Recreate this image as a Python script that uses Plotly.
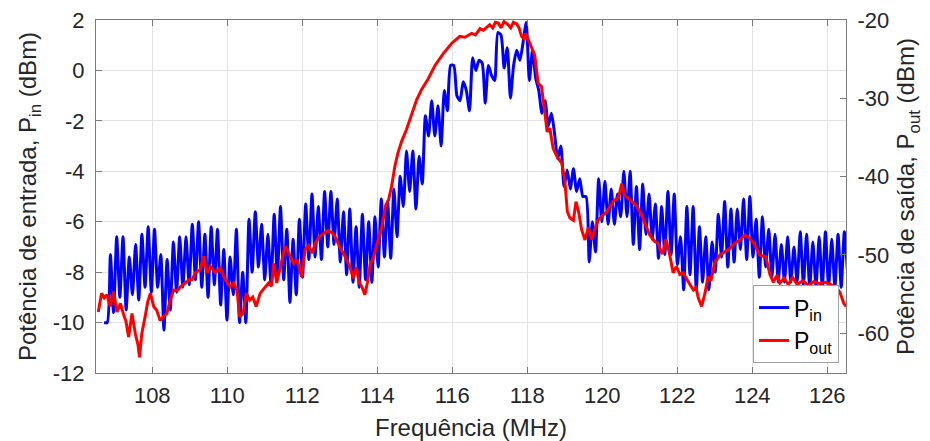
import numpy as np
import plotly.graph_objects as go

# ---------------- data ----------------
# P_in (dBm, left axis), sampled on a uniform frequency grid
pin_f_start = 106.716
pin_f_step = 0.084
p_in = [
    -10.0, -10.0, -7.3, -9.6, -6.6, -9.0, -6.6, -9.5, -7.4, -8.9,
    -6.9, -9.1, -6.5, -8.6, -6.2, -8.8, -6.3, -8.6, -7.3, -10.3,
    -7.5, -9.5, -6.8, -8.8, -6.6, -8.6, -6.6, -8.5, -6.1, -8.3,
    -6.0, -8.6, -6.5, -9.0, -6.2, -8.5, -6.3, -9.3, -7.1, -9.9,
    -7.4, -8.9, -6.3, -10.0, -8.0, -10.0, -5.9, -8.0, -5.6, -7.8,
    -6.1, -8.3, -6.5, -8.5, -5.7, -8.2, -5.4, -8.3, -6.3, -9.2,
    -6.7, -8.9, -5.9, -8.2, -5.3, -7.5, -4.9, -7.4, -5.4, -7.5,
    -4.8, -7.0, -4.8, -6.9, -5.1, -7.6, -5.6, -8.1, -5.5, -8.4,
    -6.2, -8.6, -5.7, -8.3, -6.0, -8.4, -5.8, -7.8, -5.1, -7.4,
    -5.2, -7.45, -4.7, -6.6, -4.2, -5.4, -3.2, -4.8, -3.2, -5.5,
    -3.4, -4.5, -1.8, -2.6, -1.2, -2.6, -1.4, -3.0, -0.8, -1.6,
    0.2, 0.2, -1.0, -1.2, -0.45, -0.8, -1.6, 0.5, 0.0, 0.4,
    0.3, -1.3, 0.2, -0.2, -0.4, 1.5, 1.4, 0.1, 0.9, -1.1,
    0.2, 0.8, 0.4, 1.1, 1.9, -0.4, 0.8, -0.3, -0.8, -1.7,
    -1.2, -2.2, -1.7, -2.5, -3.5, -3.0, -4.6, -3.95, -4.7, -3.9,
    -4.8, -4.3, -5.0, -5.0, -7.6, -6.0, -7.2, -4.3, -6.0, -4.4,
    -6.1, -4.7, -6.1, -4.9, -5.8, -4.0, -5.8, -4.0, -6.9, -4.6,
    -7.1, -4.5, -6.5, -4.9, -6.7, -5.3, -7.45, -5.4, -7.3, -4.8,
    -7.3, -4.9, -7.7, -6.6, -8.7, -5.4, -8.1, -5.4, -8.7, -6.2,
    -8.4, -6.6, -8.7, -6.8, -8.0, -5.7, -7.4, -5.2, -7.8, -5.5,
    -7.6, -5.5, -7.1, -5.1, -7.5, -5.0, -7.4, -5.9, -8.2, -5.8,
    -7.8, -6.3, -8.2, -6.5, -8.4, -6.9, -8.4, -6.6, -8.4, -7.0,
    -8.4, -6.4, -8.5, -6.5, -8.6, -6.8, -8.6, -6.6, -8.6, -6.4,
    -8.6, -6.7, -8.6, -6.5, -8.6, -6.4, -8.0,
]

# P_out (dBm, right axis)
f_out = [
    106.56, 106.65, 106.72, 106.79, 106.88, 106.97, 107.06, 107.15, 107.24, 107.30,
    107.37, 107.46, 107.55, 107.62, 107.66, 107.72, 107.81, 107.88, 107.95, 108.04,
    108.12, 108.21, 108.30, 108.39, 108.48, 108.57, 108.66, 108.75, 108.88, 108.97,
    109.06, 109.15, 109.28, 109.37, 109.46, 109.55, 109.68, 109.81, 109.95, 110.08,
    110.17, 110.26, 110.33, 110.42, 110.51, 110.60, 110.68, 110.77, 110.88, 111.01,
    111.10, 111.18, 111.24, 111.32, 111.41, 111.49, 111.55, 111.64, 111.77, 111.86,
    111.98, 112.08, 112.17, 112.26, 112.35, 112.44, 112.56, 112.69, 112.80, 112.90,
    113.00, 113.14, 113.27, 113.36, 113.44, 113.52, 113.60, 113.67, 113.74, 113.81,
    113.89, 113.98, 114.12, 114.23, 114.30, 114.38, 114.47, 114.55, 114.65, 114.78,
    114.92, 115.05, 115.18, 115.36, 115.54, 115.76, 115.98, 116.20, 116.34, 116.52,
    116.62, 116.74, 116.83, 116.92, 117.00, 117.08, 117.15, 117.23, 117.30, 117.38,
    117.49, 117.56, 117.63, 117.72, 117.78, 117.85, 117.92, 117.96, 118.07, 118.20,
    118.29, 118.38, 118.47, 118.53, 118.60, 118.69, 118.80, 118.92, 119.00, 119.07,
    119.14, 119.23, 119.30, 119.37, 119.45, 119.54, 119.63, 119.72, 119.80, 119.89,
    119.98, 120.12, 120.20, 120.29, 120.34, 120.44, 120.52, 120.60, 120.70, 120.83,
    120.92, 121.05, 121.14, 121.27, 121.40, 121.49, 121.54, 121.61, 121.70, 121.79,
    121.89, 121.98, 122.07, 122.16, 122.29, 122.43, 122.50, 122.56, 122.65, 122.74,
    122.82, 122.90, 123.00, 123.14, 123.27, 123.40, 123.54, 123.67, 123.80, 123.90,
    124.03, 124.12, 124.20, 124.30, 124.36, 124.47, 124.56, 124.66, 124.74, 124.85,
    124.96, 125.08, 125.20, 125.35, 125.50, 125.65, 125.80, 125.95, 126.10, 126.26,
    126.34, 126.44, 126.50,
]
p_out = [
    -57.3, -54.9, -55.5, -55.1, -56.6, -54.7, -57.3, -56.2, -57.7, -58.5,
    -60.5, -57.5, -60.1, -61.5, -63.1, -60.1, -57.9, -56.0, -54.9, -56.6,
    -57.1, -58.4, -57.9, -57.5, -55.8, -54.5, -54.6, -54.1, -53.6, -53.2,
    -53.2, -52.3, -51.9, -50.2, -52.3, -51.5, -52.3, -51.7, -53.2, -54.1,
    -53.6, -54.5, -57.9, -57.5, -54.9, -55.8, -55.4, -56.6, -54.9, -54.1,
    -53.6, -54.0, -51.1, -53.6, -51.5, -50.0, -48.9, -49.8, -51.1, -50.6,
    -52.8, -49.3, -48.8, -49.8, -48.5, -47.8, -47.3, -46.9, -47.2, -47.9,
    -49.0, -50.2, -51.5, -53.0, -51.6, -53.5, -54.2, -55.1, -53.5, -51.2,
    -50.5, -48.9, -46.5, -43.6, -43.0, -41.3, -38.7, -37.0, -35.5, -34.0,
    -32.0, -30.2, -28.9, -27.5, -25.8, -24.3, -23.0, -22.1, -22.2, -21.7,
    -21.9, -21.1, -21.3, -20.9, -20.6, -21.0, -20.3, -20.4, -21.0, -20.2,
    -20.6, -21.0, -20.3, -20.5, -21.0, -22.1, -22.4, -21.7, -23.0, -24.5,
    -28.1, -28.5, -31.9, -34.3, -33.8, -36.4, -37.5, -38.3, -40.4, -44.5,
    -45.3, -45.6, -43.2, -44.5, -46.8, -48.1, -46.5, -48.1, -46.8, -45.6,
    -45.1, -44.5, -43.9, -43.2, -43.0, -42.6, -40.9, -42.4, -42.8, -43.4,
    -43.8, -44.9, -46.0, -47.5, -48.3, -48.5, -49.3, -49.9, -48.0, -49.8,
    -52.3, -51.5, -52.5, -52.3, -53.4, -54.5, -54.2, -55.5, -56.6, -54.9,
    -52.8, -53.3, -51.0, -50.0, -49.6, -49.2, -48.5, -48.1, -47.5, -47.8,
    -48.4, -49.3, -50.0, -50.2, -50.2, -52.5, -53.5, -52.6, -53.6, -53.0,
    -53.8, -52.9, -53.8, -53.3, -53.9, -53.4, -53.7, -53.5, -53.8, -54.3,
    -54.8, -56.2, -56.6,
]

x_ticks = [108, 110, 112, 114, 116, 118, 120, 122, 124, 126]
y_left_ticks = [-12, -10, -8, -6, -4, -2, 0, 2]
y_right_ticks = [-60, -50, -40, -30, -20]

x_range = [106.5, 126.5]
y_left_range = [-12, 2]
y_right_range = [-65.1, -20]

# ---------------- figure ----------------
f_in = pin_f_start + pin_f_step * np.arange(len(p_in))

FONT = "Liberation Sans, Arial, Helvetica, sans-serif"
TXT = "#262626"
LINE = "#7a7a7a"


def labels(vals):
    # MATLAB-style labels with a plain hyphen-minus
    return [str(v) for v in vals]


fig = go.Figure()
fig.add_trace(go.Scatter(
    x=f_in, y=p_in, mode="lines", name="P<sub>in</sub>",
    line=dict(color="#0000FF", width=3, shape="spline", smoothing=0.6),
))
fig.add_trace(go.Scatter(
    x=f_out, y=p_out, mode="lines", name="P<sub>out</sub>", yaxis="y2",
    line=dict(color="#FF0000", width=3),
))

axis_common = dict(
    ticks="inside", ticklen=6, tickwidth=1, tickcolor=LINE,
    showline=True, linecolor=LINE, linewidth=1,
    tickfont=dict(family=FONT, size=22, color=TXT),
    zeroline=False, automargin=False,
)

fig.update_layout(
    width=930, height=441,
    margin=dict(l=96, r=84, t=20, b=68),
    paper_bgcolor="white", plot_bgcolor="white",
    font=dict(family=FONT, color=TXT),
    showlegend=True,
    legend=dict(
        x=0.9907, y=0.028, xanchor="right", yanchor="bottom",
        bgcolor="white", bordercolor="#a0a0a0", borderwidth=1,
        font=dict(family=FONT, size=23, color="black"),
        tracegroupgap=0, itemwidth=30,
    ),
    xaxis=dict(
        range=x_range, tickvals=x_ticks, ticktext=labels(x_ticks), mirror="ticks",
        showgrid=True, gridcolor="#e3e3e3", gridwidth=1,
        title=dict(text="Frequência (MHz)", font=dict(family=FONT, size=24, color=TXT), standoff=11),
        ticklabelstandoff=3,
        **axis_common,
    ),
    yaxis=dict(
        range=y_left_range, tickvals=y_left_ticks, ticktext=labels(y_left_ticks),
        showgrid=True, gridcolor="#e3e3e3", gridwidth=1,
        title=dict(text="Potência de entrada, P<sub>in</sub> (dBm)", font=dict(family=FONT, size=24, color=TXT), standoff=9),
        ticklabelstandoff=6,
        **axis_common,
    ),
    yaxis2=dict(
        range=y_right_range, tickvals=y_right_ticks, ticktext=labels(y_right_ticks),
        overlaying="y", side="right",
        showgrid=False,
        title=dict(text="Potência de saída, P<sub>out</sub> (dBm)", font=dict(family=FONT, size=24, color=TXT), standoff=9),
        ticklabelstandoff=6,
        **axis_common,
    ),
)

fig.write_html("out.html")
